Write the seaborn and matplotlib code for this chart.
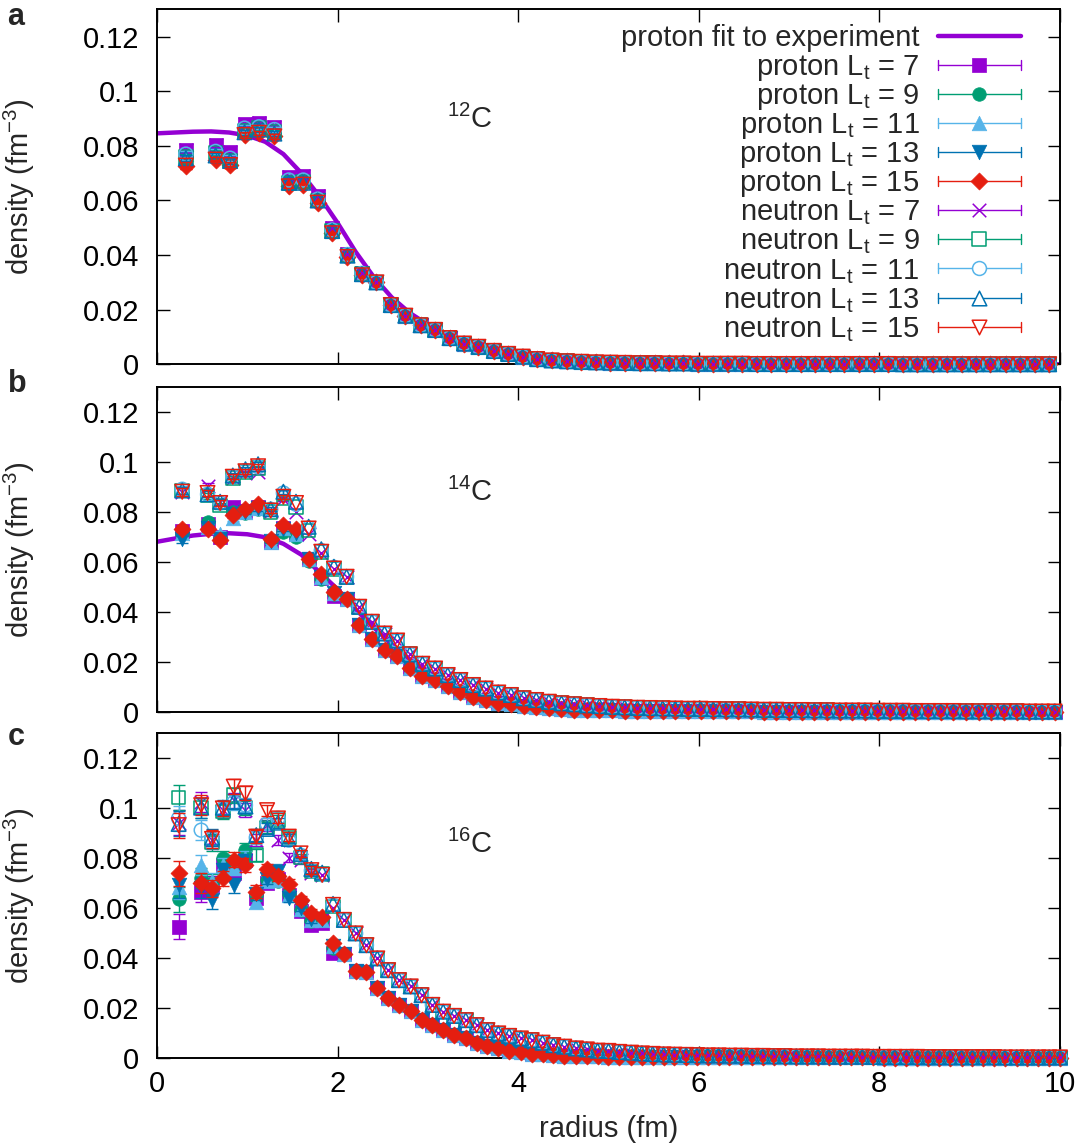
import matplotlib
matplotlib.use('Agg')
import matplotlib.pyplot as plt
from matplotlib.lines import Line2D
import seaborn as sns

# radial bins (fm) for each nucleus
R_12C = [0.32, 0.65, 0.81, 0.97, 1.13, 1.30, 1.46, 1.62, 1.78, 1.94, 2.11, 2.27,
         2.43, 2.59, 2.75, 2.92, 3.08, 3.24, 3.40, 3.56, 3.73, 3.89, 4.05, 4.21,
         4.37, 4.54, 4.70, 4.86, 5.02, 5.18, 5.35, 5.51, 5.67, 5.83, 5.99, 6.16,
         6.32, 6.48, 6.64, 6.80, 6.97, 7.13, 7.29, 7.45, 7.61, 7.78, 7.94, 8.10,
         8.26, 8.42, 8.59, 8.75, 8.91, 9.07, 9.23, 9.40, 9.56, 9.72, 9.88]
R_14C = [0.28, 0.56, 0.70, 0.84, 0.98, 1.12, 1.26, 1.40, 1.54, 1.68, 1.82, 1.96,
         2.10, 2.24, 2.38, 2.52, 2.66, 2.80, 2.94, 3.08, 3.22, 3.36, 3.50, 3.64,
         3.78, 3.92, 4.06, 4.20, 4.34, 4.48, 4.62, 4.76, 4.90, 5.04, 5.18, 5.32,
         5.46, 5.60, 5.74, 5.88, 6.02, 6.16, 6.30, 6.44, 6.58, 6.72, 6.86, 7.00,
         7.14, 7.28, 7.42, 7.56, 7.70, 7.84, 7.98, 8.12, 8.26, 8.40, 8.54, 8.68,
         8.82, 8.96, 9.10, 9.24, 9.38, 9.52, 9.66, 9.80, 9.94]
R_16C = [0.24, 0.49, 0.61, 0.73, 0.85, 0.98, 1.10, 1.22, 1.34, 1.46, 1.59, 1.71,
         1.83, 1.95, 2.07, 2.20, 2.32, 2.44, 2.56, 2.68, 2.81, 2.93, 3.05, 3.17,
         3.29, 3.42, 3.54, 3.66, 3.78, 3.90, 4.03, 4.15, 4.27, 4.39, 4.51, 4.64,
         4.76, 4.88, 5.00, 5.12, 5.25, 5.37, 5.49, 5.61, 5.73, 5.86, 5.98, 6.10,
         6.22, 6.34, 6.47, 6.59, 6.71, 6.83, 6.95, 7.08, 7.20, 7.32, 7.44, 7.56,
         7.69, 7.81, 7.93, 8.05, 8.17, 8.30, 8.42, 8.54, 8.66, 8.78, 8.91, 9.03,
         9.15, 9.27, 9.39, 9.52, 9.64, 9.76, 9.88, 10.00]

# 12C: inner bins per L_t (protons and neutrons coincide), common outer tail
C12_P7 = [0.0785, 0.0805, 0.0778, 0.0880, 0.0885, 0.0870, 0.0685, 0.0690, 0.0615, 0.0498, 0.0405, 0.0335]
C12_P9 = [0.0760, 0.0775, 0.0745, 0.0855, 0.0865, 0.0850, 0.0665, 0.0670, 0.0600, 0.0488, 0.0398, 0.0330]
C12_P11 = [0.0770, 0.0780, 0.0755, 0.0865, 0.0870, 0.0860, 0.0675, 0.0675, 0.0605, 0.0492, 0.0402, 0.0333]
C12_P13 = [0.0755, 0.0765, 0.0745, 0.0850, 0.0860, 0.0845, 0.0665, 0.0665, 0.0600, 0.0488, 0.0398, 0.0330]
C12_P15 = [0.0728, 0.0750, 0.0730, 0.0840, 0.0848, 0.0835, 0.0652, 0.0658, 0.0592, 0.0480, 0.0393, 0.0326]
C12_TAIL = [0.0300, 0.0217, 0.0178, 0.0143, 0.0126, 0.0096, 0.0076, 0.0064, 0.0049, 0.0038,
            0.0028, 0.0019, 0.0014, 0.0011, 0.0009, 0.0007, 0.0006, 0.0005, 0.0004, 0.0004,
            0.0003, 0.0003, 0.0002, 0.0002, 0.0002, 0.0002, 0.0001, 0.0001, 0.0001, 0.0001,
            0.0001, 0.0001, 0.0001, 0.0001, 0.0001, 0.0001, 0.0, 0.0, 0.0, 0.0,
            0.0, 0.0, 0.0, 0.0, 0.0, 0.0, 0.0]

# 14C
C14_P7 = [0.0725, 0.0750, 0.0700, 0.0820, 0.0805, 0.0820, 0.0680, 0.0735, 0.0715, 0.0610, 0.0535, 0.0465]
C14_P9 = [0.0710, 0.0760, 0.0695, 0.0800, 0.0795, 0.0810, 0.0685, 0.0720, 0.0700, 0.0605, 0.0530, 0.0470]
C14_P11 = [0.0715, 0.0740, 0.0710, 0.0775, 0.0800, 0.0815, 0.0680, 0.0735, 0.0710, 0.0610, 0.0540, 0.0475]
C14_P13 = [0.0690, 0.0735, 0.0690, 0.0790, 0.0800, 0.0815, 0.0685, 0.0730, 0.0715, 0.0610, 0.0540, 0.0475]
C14_P15 = [0.0733, 0.0730, 0.0687, 0.0787, 0.0813, 0.0833, 0.0693, 0.0747, 0.0730, 0.0613, 0.0553, 0.0480]
C14_N7 = [0.0880, 0.0905, 0.0840, 0.0935, 0.0955, 0.0960, 0.0805, 0.0850, 0.0800, 0.0710, 0.0635, 0.0570]
C14_N9 = [0.0885, 0.0865, 0.0825, 0.0935, 0.0960, 0.0975, 0.0800, 0.0855, 0.0820, 0.0725, 0.0640, 0.0572]
C14_N11 = [0.0890, 0.0870, 0.0835, 0.0940, 0.0965, 0.0980, 0.0810, 0.0875, 0.0830, 0.0735, 0.0645, 0.0578]
C14_N13 = [0.0885, 0.0870, 0.0840, 0.0945, 0.0970, 0.0990, 0.0810, 0.0880, 0.0840, 0.0740, 0.0650, 0.0580]
C14_N15 = [0.0880, 0.0875, 0.0835, 0.0940, 0.0962, 0.0982, 0.0805, 0.0860, 0.0835, 0.0733, 0.0640, 0.0573]
C14_P_TAIL = [0.0450, 0.0347, 0.0293, 0.0248, 0.0223, 0.0175, 0.0142, 0.0127, 0.0102, 0.0080,
              0.0061, 0.0047, 0.0036, 0.0030, 0.0023, 0.0018, 0.0014, 0.0011, 0.0009, 0.0008,
              0.0007, 0.0006, 0.0005, 0.0004, 0.0004, 0.0003, 0.0003, 0.0003, 0.0002, 0.0002,
              0.0002, 0.0002, 0.0002, 0.0001, 0.0001, 0.0001, 0.0001, 0.0001, 0.0001, 0.0001,
              0.0001, 0.0001, 0.0001, 0.0001, 0.0001, 0.0001, 0.0, 0.0, 0.0, 0.0,
              0.0, 0.0, 0.0, 0.0, 0.0, 0.0, 0.0]
C14_N_TAIL = [0.0540, 0.0420, 0.0360, 0.0313, 0.0285, 0.0230, 0.0192, 0.0173, 0.0147, 0.0127,
              0.0107, 0.0093, 0.0077, 0.0067, 0.0054, 0.0047, 0.0040, 0.0034, 0.0030, 0.0026,
              0.0023, 0.0020, 0.0018, 0.0016, 0.0015, 0.0014, 0.0013, 0.0012, 0.0012, 0.0011,
              0.0010, 0.0010, 0.0009, 0.0008, 0.0008, 0.0007, 0.0007, 0.0006, 0.0006, 0.0005,
              0.0005, 0.0005, 0.0004, 0.0004, 0.0004, 0.0003, 0.0003, 0.0003, 0.0003, 0.0002,
              0.0002, 0.0002, 0.0002, 0.0002, 0.0001, 0.0001, 0.0001]

# 16C
C16_P7 = [0.0524, 0.0664, 0.0690, 0.0770, 0.0737, 0.0790, 0.0640, 0.0700, 0.0715, 0.0650, 0.0585, 0.0530, 0.0540, 0.0420]
C16_P9 = [0.0633, 0.0717, 0.0700, 0.0797, 0.0780, 0.0830, 0.0650, 0.0710, 0.0705, 0.0655, 0.0590, 0.0545, 0.0550, 0.0440]
C16_P11 = [0.0684, 0.0771, 0.0705, 0.0770, 0.0760, 0.0800, 0.0624, 0.0705, 0.0710, 0.0650, 0.0595, 0.0550, 0.0552, 0.0445]
C16_P13 = [0.0690, 0.0680, 0.0630, 0.0750, 0.0690, 0.0785, 0.0655, 0.0715, 0.0745, 0.0640, 0.0600, 0.0555, 0.0555, 0.0445]
C16_P15 = [0.0737, 0.0697, 0.0677, 0.0717, 0.0791, 0.0771, 0.0664, 0.0753, 0.0727, 0.0695, 0.0630, 0.0580, 0.0564, 0.0460]
C16_N7 = [0.0940, 0.1024, 0.0870, 0.0990, 0.1030, 0.0990, 0.0870, 0.0930, 0.0870, 0.0800, 0.0790, 0.0740, 0.0730, 0.0600]
C16_N9 = [0.1040, 0.1000, 0.0860, 0.0985, 0.1050, 0.1000, 0.0810, 0.0920, 0.0950, 0.0880, 0.0800, 0.0745, 0.0735, 0.0605]
C16_N11 = [0.0957, 0.0910, 0.0875, 0.0995, 0.1020, 0.1010, 0.0880, 0.0935, 0.0957, 0.0870, 0.0810, 0.0748, 0.0732, 0.0610]
C16_N13 = [0.0935, 0.1000, 0.0880, 0.1000, 0.1024, 0.1005, 0.0890, 0.0915, 0.0940, 0.0875, 0.0815, 0.0755, 0.0740, 0.0615]
C16_N15 = [0.0930, 0.1010, 0.0875, 0.0997, 0.1084, 0.1057, 0.0884, 0.0990, 0.0957, 0.0884, 0.0817, 0.0750, 0.0731, 0.0611]
C16_P_TAIL = [0.0413, 0.0348, 0.0344, 0.0277, 0.0237, 0.0210, 0.0185, 0.0152, 0.0130, 0.0110,
              0.0090, 0.0077, 0.0060, 0.0047, 0.0037, 0.0028, 0.0021, 0.0016, 0.0013, 0.0010,
              0.0008, 0.0007, 0.0006, 0.0005, 0.0004, 0.0004, 0.0003, 0.0003, 0.0003, 0.0002,
              0.0002, 0.0002, 0.0002, 0.0002, 0.0001, 0.0001, 0.0001, 0.0001, 0.0001, 0.0001,
              0.0001, 0.0001, 0.0001, 0.0001, 0.0001, 0.0001, 0.0001, 0.0001, 0.0001, 0.0,
              0.0, 0.0, 0.0, 0.0, 0.0, 0.0, 0.0, 0.0, 0.0, 0.0,
              0.0, 0.0, 0.0, 0.0, 0.0, 0.0]
C16_N_TAIL = [0.0551, 0.0497, 0.0450, 0.0397, 0.0350, 0.0310, 0.0285, 0.0250, 0.0211, 0.0184,
              0.0167, 0.0150, 0.0130, 0.0110, 0.0097, 0.0087, 0.0077, 0.0070, 0.0060, 0.0050,
              0.0044, 0.0037, 0.0033, 0.0028, 0.0027, 0.0023, 0.0020, 0.0017, 0.0015, 0.0013,
              0.0012, 0.0011, 0.0010, 0.0009, 0.0009, 0.0008, 0.0008, 0.0007, 0.0007, 0.0006,
              0.0006, 0.0005, 0.0005, 0.0005, 0.0004, 0.0004, 0.0004, 0.0004, 0.0003, 0.0003,
              0.0003, 0.0003, 0.0003, 0.0002, 0.0002, 0.0002, 0.0002, 0.0002, 0.0002, 0.0002,
              0.0001, 0.0001, 0.0001, 0.0001, 0.0001, 0.0001]

# statistical errors of the innermost bins
ERR_12C = [0.0012, 0.0010, 0.0010, 0.0010, 0.0008, 0.0008]
ERR_14C = [0.0015, 0.0012, 0.0012, 0.0010, 0.0010, 0.0010, 0.0008, 0.0008]
ERR_16C = [0.0050, 0.0040, 0.0035, 0.0030, 0.0030, 0.0028, 0.0025, 0.0022, 0.0020, 0.0018, 0.0015, 0.0015]

# proton density fit to experiment
FIT_R = [0.0, 0.2, 0.4, 0.6, 0.8, 1.0, 1.2, 1.4, 1.6, 1.8, 2.0, 2.2, 2.4, 2.6, 2.8,
         3.0, 3.2, 3.4, 3.6, 3.8, 4.0, 4.4, 4.8, 5.5, 7.0, 10.0]
FIT_12C = [0.0846, 0.0849, 0.0852, 0.0853, 0.0849, 0.0838, 0.0815, 0.0770, 0.0700, 0.0615,
           0.0518, 0.0412, 0.0320, 0.0245, 0.0188, 0.0145, 0.0108, 0.0078, 0.0055, 0.0038,
           0.0025, 0.0011, 0.0004, 0.0001, 0.0, 0.0]
FIT_14C = [0.0680, 0.0693, 0.0705, 0.0712, 0.0714, 0.0710, 0.0698, 0.0672, 0.0628, 0.0558,
           0.0490, 0.0410, 0.0338, 0.0270, 0.0210, 0.0160, 0.0118, 0.0085, 0.0060, 0.0041,
           0.0027, 0.0012, 0.0005, 0.0001, 0.0, 0.0]

LT = [7, 9, 11, 13, 15]
LT_COLORS = ['#9400D3', '#009E73', '#56B4E9', '#0072B2', '#E51E10']
FIT_COLOR = '#9400D3'
P_MARKERS = ['s', 'o', '^', 'v', 'D']
N_MARKERS = ['x', 's', 'o', '^', 'v']
P_SIZES = [95, 95, 110, 110, 75]
N_SIZES = [95, 95, 100, 110, 110]
Y_TICKS = [0, 0.02, 0.04, 0.06, 0.08, 0.1, 0.12]
Y_TICKLABELS = ['0', '0.02', '0.04', '0.06', '0.08', '0.1', '0.12']
X_TICKS = [0, 2, 4, 6, 8, 10]

sns.set_theme(style='ticks')
plt.rcParams['font.family'] = ['Liberation Sans', 'DejaVu Sans']
plt.rcParams['mathtext.fontset'] = 'custom'
plt.rcParams['mathtext.rm'] = 'Liberation Sans'
plt.rcParams['mathtext.it'] = 'Liberation Sans:italic'
plt.rcParams['mathtext.bf'] = 'Liberation Sans:bold'

FS = 21

panels = [
    dict(r=R_12C, prot=[C12_P7, C12_P9, C12_P11, C12_P13, C12_P15],
         neut=[C12_P7, C12_P9, C12_P11, C12_P13, C12_P15],
         ptail=C12_TAIL, ntail=C12_TAIL, err=ERR_12C, fit=FIT_12C,
         box=[0.1460, 0.6827, 0.8400, 0.3091], tag='a', tag_y=0.985,
         name=r'$^{12}$C', name_y=0.690),
    dict(r=R_14C, prot=[C14_P7, C14_P9, C14_P11, C14_P13, C14_P15],
         neut=[C14_N7, C14_N9, C14_N11, C14_N13, C14_N15],
         ptail=C14_P_TAIL, ntail=C14_N_TAIL, err=ERR_14C, fit=FIT_14C,
         box=[0.1460, 0.3800, 0.8400, 0.2831], tag='b', tag_y=0.6655,
         name=r'$^{14}$C', name_y=0.676),
    dict(r=R_16C, prot=[C16_P7, C16_P9, C16_P11, C16_P13, C16_P15],
         neut=[C16_N7, C16_N9, C16_N11, C16_N13, C16_N15],
         ptail=C16_P_TAIL, ntail=C16_N_TAIL, err=ERR_16C, fit=None,
         box=[0.1460, 0.0787, 0.8400, 0.2831], tag='c', tag_y=0.358,
         name=r'$^{16}$C', name_y=0.656),
]

fig = plt.figure(figsize=(10.75, 11.48), dpi=100)

for i, p in enumerate(panels):
    ax = fig.add_axes(p['box'])
    if p['fit'] is not None:
        sns.lineplot(x=FIT_R, y=p['fit'], ax=ax, color=FIT_COLOR, linewidth=3.2,
                     estimator=None, sort=False, zorder=1)
    z = 2
    groups = [(p['prot'], p['ptail'], P_MARKERS, P_SIZES, True),
              (p['neut'], p['ntail'], N_MARKERS, N_SIZES, False)]
    for cores, tail, markers, sizes, filled in groups:
        for core, m, s, c in zip(cores, markers, sizes, LT_COLORS):
            y = core + tail
            ne = len(p['err'])
            ax.errorbar(p['r'][:ne], y[:ne], yerr=p['err'], fmt='none', ecolor=c,
                        elinewidth=1, capsize=4, capthick=1, zorder=z)
            if filled:
                sns.scatterplot(x=p['r'], y=y, ax=ax, marker=m, s=s, color=c,
                                edgecolor=c, linewidth=0.5, zorder=z, clip_on=False)
            elif m == 'x':
                sns.scatterplot(x=p['r'], y=y, ax=ax, marker=m, s=s, color=c,
                                linewidth=1.1, zorder=z, clip_on=False)
            else:
                sns.scatterplot(x=p['r'], y=y, ax=ax, marker=m, s=s, color=c,
                                facecolor='none', edgecolor=c, linewidth=1.1,
                                zorder=z, clip_on=False)
            z += 1

    ax.set_xlim(0, 10)
    ax.set_ylim(0, 0.13)
    ax.set_yticks(Y_TICKS)
    ax.set_yticklabels(Y_TICKLABELS)
    ax.set_xticks(X_TICKS)
    ax.tick_params(direction='in', length=9, width=1, top=True, right=True,
                   labelsize=FS, colors='black')
    ax.tick_params(axis='y', pad=13)
    ax.tick_params(axis='x', pad=9)
    for sp in ax.spines.values():
        sp.set_linewidth(1.4)
        sp.set_color('black')
    ax.set_ylabel(r'density (fm$^{-3}$)', fontsize=FS)
    ax.yaxis.set_label_coords(-0.133, 0.5)
    if i < 2:
        ax.set_xticklabels([])
        ax.set_xlabel('')
    else:
        ax.set_xlabel('radius (fm)', fontsize=FS)
        ax.xaxis.set_label_coords(0.5, -0.175)
    ax.text(0.321, p['name_y'], p['name'], transform=ax.transAxes, fontsize=FS,
            ha='left', va='center')
    fig.text(0.007, p['tag_y'], p['tag'], fontsize=22, fontweight='bold',
             ha='left', va='center')

    if i == 0:
        # gnuplot-style key: right-aligned text, sample line with caps on the right
        labels = ['proton fit to experiment']
        labels += [r'proton L$_{\mathrm{t}}$ = %d' % lt for lt in LT]
        labels += [r'neutron L$_{\mathrm{t}}$ = %d' % lt for lt in LT]
        styles = [(FIT_COLOR, None, None, True)]
        styles += [(c, m, s, True) for c, m, s in zip(LT_COLORS, P_MARKERS, P_SIZES)]
        styles += [(c, m, s, False) for c, m, s in zip(LT_COLORS, N_MARKERS, N_SIZES)]
        top, step = 0.926, 0.082
        x_txt, x0, x1 = 0.8442, 0.8646, 0.9568
        xm = (x0 + x1) / 2
        cap = 0.014
        for k, (lab, (c, m, s, filled)) in enumerate(zip(labels, styles)):
            yy = top - k * step
            ax.text(x_txt, yy - 0.029, lab, transform=ax.transAxes, fontsize=FS,
                    ha='right', va='baseline')
            if m is None:
                ax.add_line(Line2D([x0, x1], [yy, yy], transform=ax.transAxes,
                                   color=c, linewidth=3.2, clip_on=False))
                continue
            ax.add_line(Line2D([x0, x1], [yy, yy], transform=ax.transAxes,
                               color=c, linewidth=1, clip_on=False))
            for xc in (x0, x1):
                ax.add_line(Line2D([xc, xc], [yy - cap, yy + cap], transform=ax.transAxes,
                                   color=c, linewidth=1, clip_on=False))
            if m == 'x':
                ax.scatter([xm], [yy], transform=ax.transAxes, marker=m, s=s, color=c,
                           linewidth=1.1, clip_on=False, zorder=20)
            elif filled:
                ax.scatter([xm], [yy], transform=ax.transAxes, marker=m, s=s, color=c,
                           edgecolor=c, linewidth=0.5, clip_on=False, zorder=20)
            else:
                ax.scatter([xm], [yy], transform=ax.transAxes, marker=m, s=s,
                           facecolor='white', edgecolor=c, linewidth=1.1,
                           clip_on=False, zorder=20)

fig.savefig('out.png', dpi=100)
